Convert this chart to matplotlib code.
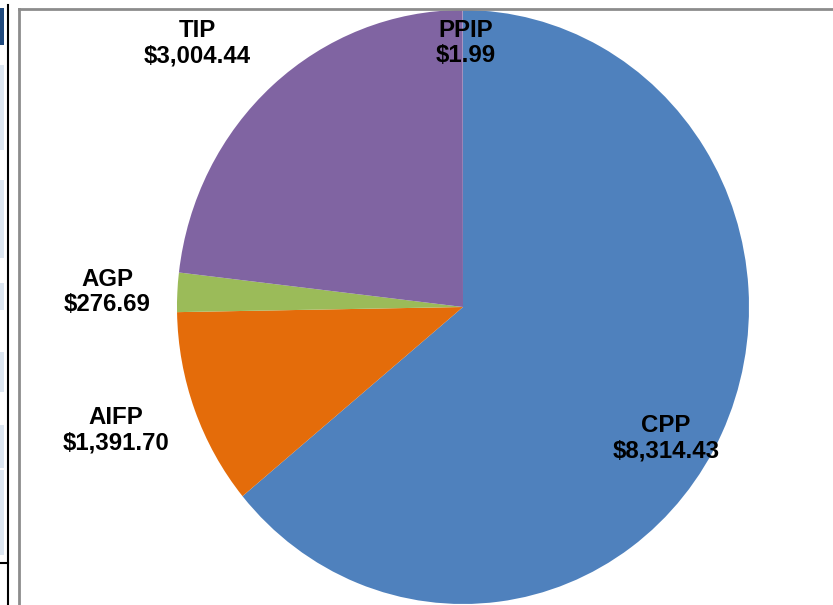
import matplotlib
matplotlib.use("Agg")
import matplotlib.pyplot as plt
from matplotlib.patches import Rectangle
from matplotlib.lines import Line2D

plt.rcParams['font.family'] = ['Liberation Sans', 'DejaVu Sans']

categories = ["CPP", "AIFP", "AGP", "TIP", "PPIP"]
values = [8314.43, 1391.70, 276.69, 3004.44, 1.99]
colors = ["#4F81BD", "#E46C0A", "#9BBB59", "#8064A2", "#C3B5DA"]

W, H = 833, 605
fig = plt.figure(figsize=(W / 100, H / 100), dpi=100)
fig.patch.set_facecolor("white")

# pie axes: center ~ (463, 307) px, rx ~ 286, ry ~ 297
cx, cy, rx, ry = 463, 307, 286, 297
ax = fig.add_axes([(cx - rx) / W, (H - (cy + ry)) / H, 2 * rx / W, 2 * ry / H])
ax.pie(values, colors=colors, startangle=90, counterclock=False,
       wedgeprops=dict(linewidth=0))
ax.set_aspect("auto")
ax.set_xlim(-1, 1)
ax.set_ylim(-1, 1)
ax.set_axis_off()

# label positions (pixel centres of each two-line block)
label_pos = {"CPP": (666, 438), "AIFP": (116, 430), "AGP": (107, 292),
             "TIP": (197, 43), "PPIP": (466, 43)}
for cat, val in zip(categories, values):
    px, py = label_pos[cat]
    fig.text(px / W, 1 - py / H, f"{cat}\n${val:,.2f}", ha="center", va="center",
             fontsize=17.3, fontweight="bold", color="black", linespacing=1.12)

# chart-area border (partially visible screenshot frame)
fig.add_artist(Line2D([19 / W, 1.0], [1 - 8.5 / H, 1 - 8.5 / H], color="#8c8c8c", lw=2.0))
fig.add_artist(Line2D([19 / W, 19 / W], [0, 1 - 8.5 / H], color="#8c8c8c", lw=2.0))

# left-side screenshot remnants
fig.add_artist(Line2D([7.5 / W, 7.5 / W], [0, 1 - 5 / H], color="black", lw=1.5))
fig.add_artist(Line2D([0, 7.5 / W], [1 - 563 / H, 1 - 563 / H], color="black", lw=1.5))
fig.add_artist(Rectangle((0, 1 - 45 / H), 4 / W, 37 / H, transform=fig.transFigure,
                         facecolor="#1F497D", edgecolor="none"))
for y0, y1 in [(65, 150), (180, 258), (283, 310), (352, 392), (425, 468), (470, 555)]:
    fig.add_artist(Rectangle((0, 1 - y1 / H), 4 / W, (y1 - y0) / H, transform=fig.transFigure,
                             facecolor="#DCE6F1", edgecolor="none"))

fig.savefig("out.png", dpi=100)
